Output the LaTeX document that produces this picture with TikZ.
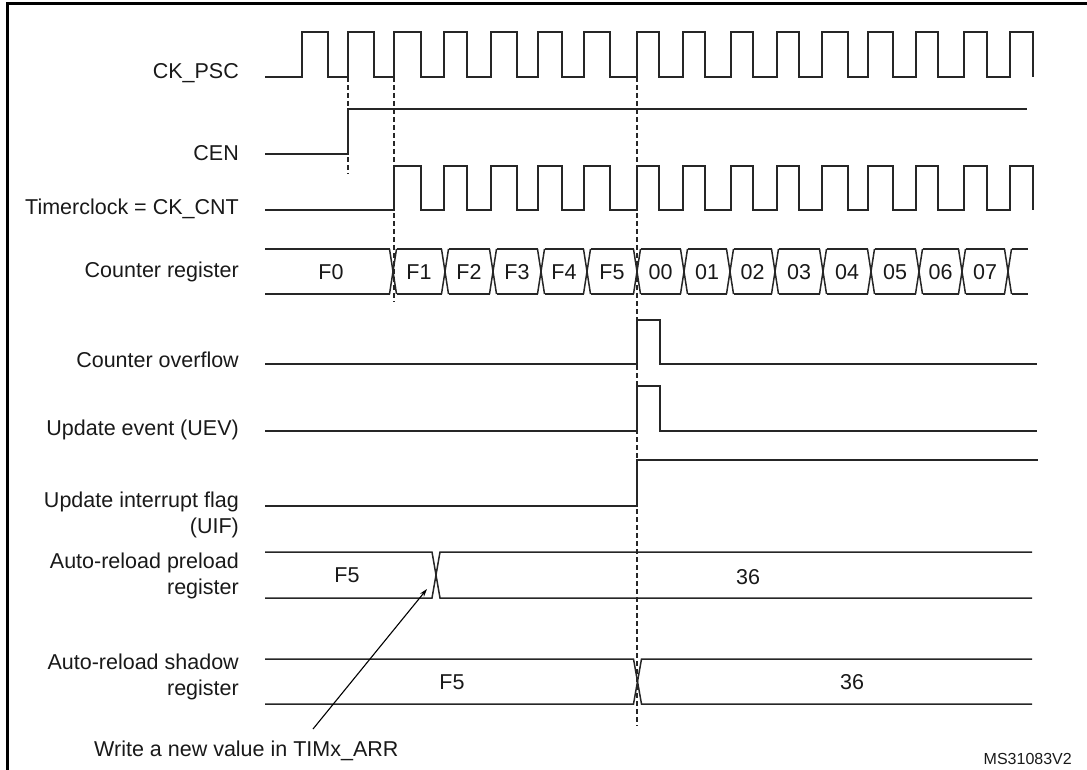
\documentclass[tikz,border=0pt]{standalone}
\usepackage{fontspec}
\setmainfont{Liberation Sans}
\usetikzlibrary{arrows.meta}
\begin{document}
\begin{tikzpicture}[x=1pt,y=-1pt,
  sig/.style={draw=black!85,line width=1.5pt,line join=miter},
  guide/.style={draw=black!85,line width=1.4pt,dash pattern=on 5pt off 3pt},
  lbl/.style={anchor=east,align=right,inner sep=0pt,font=\fontsize{21.5}{25.5}\selectfont,text=black!90},
  val/.style={inner sep=0pt,font=\fontsize{21.5}{25.5}\selectfont,text=black!90},
  note/.style={inner sep=0pt,font=\fontsize{21.5}{25.5}\selectfont,text=black!90,anchor=west},
  ref/.style={inner sep=0pt,font=\fontsize{16}{19}\selectfont,text=black!90,anchor=east},
  pointer/.style={draw=black,line width=1.1pt,-{Stealth[length=8pt,width=5pt]}}]
\useasboundingbox (0,0) rectangle (1087,770);
% frame
\draw[line width=3pt] (1087,4) -- (7,4) -- (7,770);

% labels
\node[lbl] (lpsc) at (239,73) {CK\_PSC};
\node[lbl] (lcen) at (239,153) {CEN};
\node[lbl] (lcnt) at (239,209) {Timerclock = CK\_CNT};
\node[lbl] (lreg) at (239,272) {Counter register};
\node[lbl] (lovf) at (239,360) {Counter overflow};
\node[lbl] (luev) at (239,430) {Update event (UEV)};
\node[lbl] (luif) at (239,515) {Update interrupt flag\\(UIF)};
\node[lbl] (lpre) at (239,576) {Auto-reload preload\\register};
\node[lbl] (lsha) at (239,677) {Auto-reload shadow\\register};

% dashed guides
\draw[guide] (348,77) -- (348,174);
\draw[guide] (394,77) -- (394,302);
\draw[guide] (637,77) -- (637,726);

% CK_PSC
\draw[sig] (265,77)
  \foreach \r/\f in {302/328,348/374,394/421,444/467,491/517,538/562,584/610,637/659,683/705,731/753,777/799,822/848,868/893,916/938,964/987,1010/1033}
  { -- (\r,77) -- (\r,32) -- (\f,32) -- (\f,77) };

% CEN
\draw[sig] (265,154) -- (348,154) -- (348,109) -- (1027,109);

% CK_CNT
\draw[sig] (265,210)
  \foreach \r/\f in {394/421,444/467,491/517,538/562,584/610,637/659,683/705,731/753,777/799,822/848,868/893,916/938,964/987,1010/1033}
  { -- (\r,210) -- (\r,166) -- (\f,166) -- (\f,210) };

% Counter register
\draw[sig] (265,249) -- (389.5,249);
\draw[sig] (265,294) -- (389.5,294);
\node[val] (crF0) at (331,272) {F0};
\foreach \a/\b/\t in {393/445/F1,445/493/F2,493/541/F3,541/587/F4,587/637/F5,637/684/00,684/730/01,730/775/02,775/823/03,823/871/04,871/919/05,919/962/06,962/1008/07}
{
  \draw[sig] ({\a+3.5},249) -- ({\b-3.5},249);
  \draw[sig] ({\a+3.5},294) -- ({\b-3.5},294);
  \node[val] (cr\t) at ({(\a+\b)/2},272) {\t};
}
\draw[sig] (1011.5,249) -- (1028,249);
\draw[sig] (1011.5,294) -- (1028,294);
\foreach \c in {393,445,493,541,587,637,684,730,775,823,871,919,962,1008}
{
  \draw[sig] ({\c-3.5},249) -- ({\c+3.5},294);
  \draw[sig] ({\c-3.5},294) -- ({\c+3.5},249);
}

% Counter overflow
\draw[sig] (265,364) -- (637,364) -- (637,320) -- (660,320) -- (660,364) -- (1037,364);
% Update event
\draw[sig] (265,431) -- (637,431) -- (637,386) -- (660,386) -- (660,431) -- (1037,431);
% UIF
\draw[sig] (265,506) -- (637,506) -- (637,460) -- (1038,460);

% Auto-reload preload register
\draw[sig] (265,552) -- (432,552) -- (440,598) -- (1032,598);
\draw[sig] (265,598) -- (432,598) -- (440,552) -- (1032,552);
\node[val] (preF5) at (347,575) {F5};
\node[val] (pre36) at (748,577) {36};

% Auto-reload shadow register
\draw[sig] (265,659) -- (633.5,659) -- (641.5,704) -- (1032,704);
\draw[sig] (265,704) -- (633.5,704) -- (641.5,659) -- (1032,659);
\node[val] (shaF5) at (452,682) {F5};
\node[val] (sha36) at (852,682) {36};

% note and pointer
\node[note] (wnote) at (94,751) {Write a new value in TIMx\_ARR};
\coordinate (pS) at (313,729);
\coordinate (pE) at (427,589);
\draw[pointer] (pS) -- (pE);

\node[ref] (msid) at (1072,759) {MS31083V2};
\end{tikzpicture}
\end{document}
